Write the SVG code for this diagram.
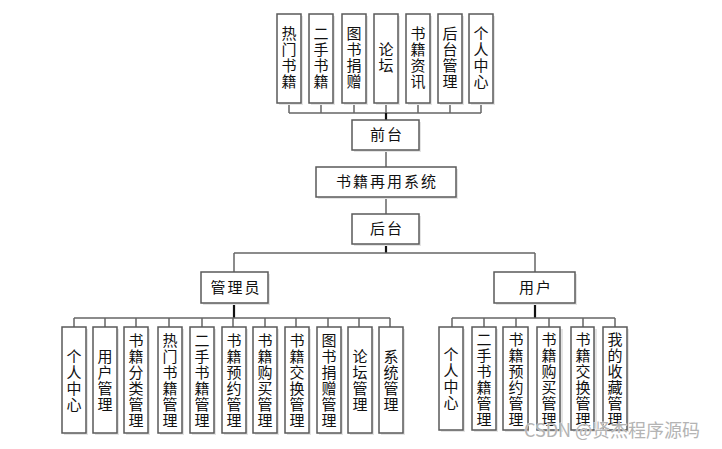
<svg xmlns="http://www.w3.org/2000/svg" width="722" height="449" viewBox="0 0 722 449">
<style>
.b{fill:#fff;stroke:#5a5a5a;stroke-width:1.5}
.s{fill:#e4e4e4}
.t{font-family:"Noto Sans CJK SC","Noto Sans",sans-serif;font-size:15px;fill:#111;text-anchor:middle}
.h{letter-spacing:2px}
.c{stroke:#666;stroke-width:1.5;fill:none}
.m{stroke:#111;stroke-width:2.2;fill:none}
</style>
<rect width="722" height="449" fill="#fff"/>
<g id="connectors">
<path class="c" d="M289 103V113M321 103V113M354 103V113M386 103V113M418 103V113M450 103V113M481 103V113M289 113H481"/>
<path class="m" d="M386 113V120"/>
<path class="c" d="M386 150V167M386 197V214"/>
<path class="m" d="M386 244V253"/>
<path class="c" d="M234 253H535M234 253V272M535 253V272"/>
<path class="m" d="M234 303V318M535 303V318"/>
<path class="c" d="M74 318H390M74 318V327M105 318V327M136 318V327M169 318V327M202 318V327M233 318V327M265 318V327M296 318V327M328 318V327M359 318V327M390 318V327"/>
<path class="c" d="M452 318H615M452 318V327M484 318V327M516 318V327M549 318V327M583 318V327M615 318V327"/>
</g>
<g id="n_rmsj"><rect class="s" x="279" y="16" width="24" height="89"/><rect class="b" x="277" y="14" width="24" height="89"/><text class="t"><tspan x="289" y="39">热</tspan><tspan x="289" y="55">门</tspan><tspan x="289" y="71">书</tspan><tspan x="289" y="87">籍</tspan></text></g>
<g id="n_essj"><rect class="s" x="311" y="16" width="24" height="89"/><rect class="b" x="309" y="14" width="24" height="89"/><text class="t"><tspan x="321" y="39">二</tspan><tspan x="321" y="55">手</tspan><tspan x="321" y="71">书</tspan><tspan x="321" y="87">籍</tspan></text></g>
<g id="n_tsjz"><rect class="s" x="344" y="16" width="24" height="89"/><rect class="b" x="342" y="14" width="24" height="89"/><text class="t"><tspan x="354" y="39">图</tspan><tspan x="354" y="55">书</tspan><tspan x="354" y="71">捐</tspan><tspan x="354" y="87">赠</tspan></text></g>
<g id="n_lt"><rect class="s" x="376" y="16" width="24" height="89"/><rect class="b" x="374" y="14" width="24" height="89"/><text class="t"><tspan x="386" y="55">论</tspan><tspan x="386" y="71">坛</tspan></text></g>
<g id="n_sjzx"><rect class="s" x="408" y="16" width="24" height="89"/><rect class="b" x="406" y="14" width="24" height="89"/><text class="t"><tspan x="418" y="39">书</tspan><tspan x="418" y="55">籍</tspan><tspan x="418" y="71">资</tspan><tspan x="418" y="87">讯</tspan></text></g>
<g id="n_htgl"><rect class="s" x="440" y="16" width="24" height="89"/><rect class="b" x="438" y="14" width="24" height="89"/><text class="t"><tspan x="450" y="39">后</tspan><tspan x="450" y="55">台</tspan><tspan x="450" y="71">管</tspan><tspan x="450" y="87">理</tspan></text></g>
<g id="n_grzx"><rect class="s" x="471" y="16" width="24" height="89"/><rect class="b" x="469" y="14" width="24" height="89"/><text class="t"><tspan x="481" y="39">个</tspan><tspan x="481" y="55">人</tspan><tspan x="481" y="71">中</tspan><tspan x="481" y="87">心</tspan></text></g>
<g id="n_qt"><rect class="s" x="354" y="122" width="67" height="30"/><rect class="b" x="352" y="120" width="67" height="30"/><text class="t h" x="387" y="140">前台</text></g>
<g id="n_sys"><rect class="s" x="318" y="169" width="140" height="30"/><rect class="b" x="316" y="167" width="140" height="30"/><text class="t h" x="387" y="187">书籍再用系统</text></g>
<g id="n_ht"><rect class="s" x="354" y="216" width="67" height="30"/><rect class="b" x="352" y="214" width="67" height="30"/><text class="t h" x="387" y="234">后台</text></g>
<g id="n_gly"><rect class="s" x="203" y="274" width="67" height="31"/><rect class="b" x="201" y="272" width="67" height="31"/><text class="t h" x="236" y="293">管理员</text></g>
<g id="n_yh"><rect class="s" x="496" y="274" width="81" height="31"/><rect class="b" x="494" y="272" width="81" height="31"/><text class="t h" x="536" y="293">用户</text></g>
<g id="a_grzx"><rect class="s" x="64" y="329" width="24" height="106"/><rect class="b" x="62" y="327" width="24" height="106"/><text class="t"><tspan x="74" y="362">个</tspan><tspan x="74" y="378">人</tspan><tspan x="74" y="394">中</tspan><tspan x="74" y="410">心</tspan></text></g>
<g id="a_yhgl"><rect class="s" x="95" y="329" width="24" height="106"/><rect class="b" x="93" y="327" width="24" height="106"/><text class="t"><tspan x="105" y="362">用</tspan><tspan x="105" y="378">户</tspan><tspan x="105" y="394">管</tspan><tspan x="105" y="410">理</tspan></text></g>
<g id="a_sjfl"><rect class="s" x="126" y="329" width="24" height="106"/><rect class="b" x="124" y="327" width="24" height="106"/><text class="t"><tspan x="136" y="346">书</tspan><tspan x="136" y="362">籍</tspan><tspan x="136" y="378">分</tspan><tspan x="136" y="394">类</tspan><tspan x="136" y="410">管</tspan><tspan x="136" y="426">理</tspan></text></g>
<g id="a_rmsj"><rect class="s" x="160" y="329" width="24" height="106"/><rect class="b" x="158" y="327" width="24" height="106"/><text class="t"><tspan x="170" y="346">热</tspan><tspan x="170" y="362">门</tspan><tspan x="170" y="378">书</tspan><tspan x="170" y="394">籍</tspan><tspan x="170" y="410">管</tspan><tspan x="170" y="426">理</tspan></text></g>
<g id="a_essj"><rect class="s" x="192" y="329" width="24" height="106"/><rect class="b" x="190" y="327" width="24" height="106"/><text class="t"><tspan x="202" y="346">二</tspan><tspan x="202" y="362">手</tspan><tspan x="202" y="378">书</tspan><tspan x="202" y="394">籍</tspan><tspan x="202" y="410">管</tspan><tspan x="202" y="426">理</tspan></text></g>
<g id="a_sjyy"><rect class="s" x="224" y="329" width="24" height="106"/><rect class="b" x="222" y="327" width="24" height="106"/><text class="t"><tspan x="234" y="346">书</tspan><tspan x="234" y="362">籍</tspan><tspan x="234" y="378">预</tspan><tspan x="234" y="394">约</tspan><tspan x="234" y="410">管</tspan><tspan x="234" y="426">理</tspan></text></g>
<g id="a_sjgm"><rect class="s" x="255" y="329" width="24" height="106"/><rect class="b" x="253" y="327" width="24" height="106"/><text class="t"><tspan x="265" y="346">书</tspan><tspan x="265" y="362">籍</tspan><tspan x="265" y="378">购</tspan><tspan x="265" y="394">买</tspan><tspan x="265" y="410">管</tspan><tspan x="265" y="426">理</tspan></text></g>
<g id="a_sjjh"><rect class="s" x="287" y="329" width="24" height="106"/><rect class="b" x="285" y="327" width="24" height="106"/><text class="t"><tspan x="297" y="346">书</tspan><tspan x="297" y="362">籍</tspan><tspan x="297" y="378">交</tspan><tspan x="297" y="394">换</tspan><tspan x="297" y="410">管</tspan><tspan x="297" y="426">理</tspan></text></g>
<g id="a_tsjz"><rect class="s" x="319" y="329" width="24" height="106"/><rect class="b" x="317" y="327" width="24" height="106"/><text class="t"><tspan x="329" y="346">图</tspan><tspan x="329" y="362">书</tspan><tspan x="329" y="378">捐</tspan><tspan x="329" y="394">赠</tspan><tspan x="329" y="410">管</tspan><tspan x="329" y="426">理</tspan></text></g>
<g id="a_ltgl"><rect class="s" x="350" y="329" width="24" height="106"/><rect class="b" x="348" y="327" width="24" height="106"/><text class="t"><tspan x="360" y="362">论</tspan><tspan x="360" y="378">坛</tspan><tspan x="360" y="394">管</tspan><tspan x="360" y="410">理</tspan></text></g>
<g id="a_xtgl"><rect class="s" x="381" y="329" width="24" height="106"/><rect class="b" x="379" y="327" width="24" height="106"/><text class="t"><tspan x="391" y="362">系</tspan><tspan x="391" y="378">统</tspan><tspan x="391" y="394">管</tspan><tspan x="391" y="410">理</tspan></text></g>
<g id="u_grzx"><rect class="s" x="441" y="329" width="24" height="103"/><rect class="b" x="439" y="327" width="24" height="103"/><text class="t"><tspan x="451" y="360">个</tspan><tspan x="451" y="376">人</tspan><tspan x="451" y="392">中</tspan><tspan x="451" y="408">心</tspan></text></g>
<g id="u_essj"><rect class="s" x="474" y="329" width="24" height="103"/><rect class="b" x="472" y="327" width="24" height="103"/><text class="t"><tspan x="484" y="345">二</tspan><tspan x="484" y="361">手</tspan><tspan x="484" y="377">书</tspan><tspan x="484" y="393">籍</tspan><tspan x="484" y="409">管</tspan><tspan x="484" y="425">理</tspan></text></g>
<g id="u_sjyy"><rect class="s" x="505" y="329" width="24" height="103"/><rect class="b" x="503" y="327" width="25" height="103"/><text class="t"><tspan x="516" y="345">书</tspan><tspan x="516" y="361">籍</tspan><tspan x="516" y="377">预</tspan><tspan x="516" y="393">约</tspan><tspan x="516" y="409">管</tspan><tspan x="516" y="425">理</tspan></text></g>
<g id="u_sjgm"><rect class="s" x="539" y="329" width="24" height="103"/><rect class="b" x="537" y="327" width="23" height="103"/><text class="t"><tspan x="549" y="345">书</tspan><tspan x="549" y="361">籍</tspan><tspan x="549" y="377">购</tspan><tspan x="549" y="393">买</tspan><tspan x="549" y="409">管</tspan><tspan x="549" y="425">理</tspan></text></g>
<g id="u_sjjh"><rect class="s" x="573" y="329" width="24" height="103"/><rect class="b" x="571" y="327" width="23" height="103"/><text class="t"><tspan x="583" y="345">书</tspan><tspan x="583" y="361">籍</tspan><tspan x="583" y="377">交</tspan><tspan x="583" y="393">换</tspan><tspan x="583" y="409">管</tspan><tspan x="583" y="425">理</tspan></text></g>
<g id="u_wdsc"><rect class="s" x="605" y="329" width="24" height="103"/><rect class="b" x="603" y="327" width="24" height="103"/><text class="t"><tspan x="615" y="345">我</tspan><tspan x="615" y="361">的</tspan><tspan x="615" y="377">收</tspan><tspan x="615" y="393">藏</tspan><tspan x="615" y="409">管</tspan><tspan x="615" y="425">理</tspan></text></g>
<text x="612" y="437" font-family="&quot;Noto Sans CJK SC&quot;,sans-serif" font-size="18" fill="#b4b4b4" stroke="#fff" stroke-width="0.6" paint-order="stroke" text-anchor="middle">CSDN @贤杰程序源码</text>
</svg>
